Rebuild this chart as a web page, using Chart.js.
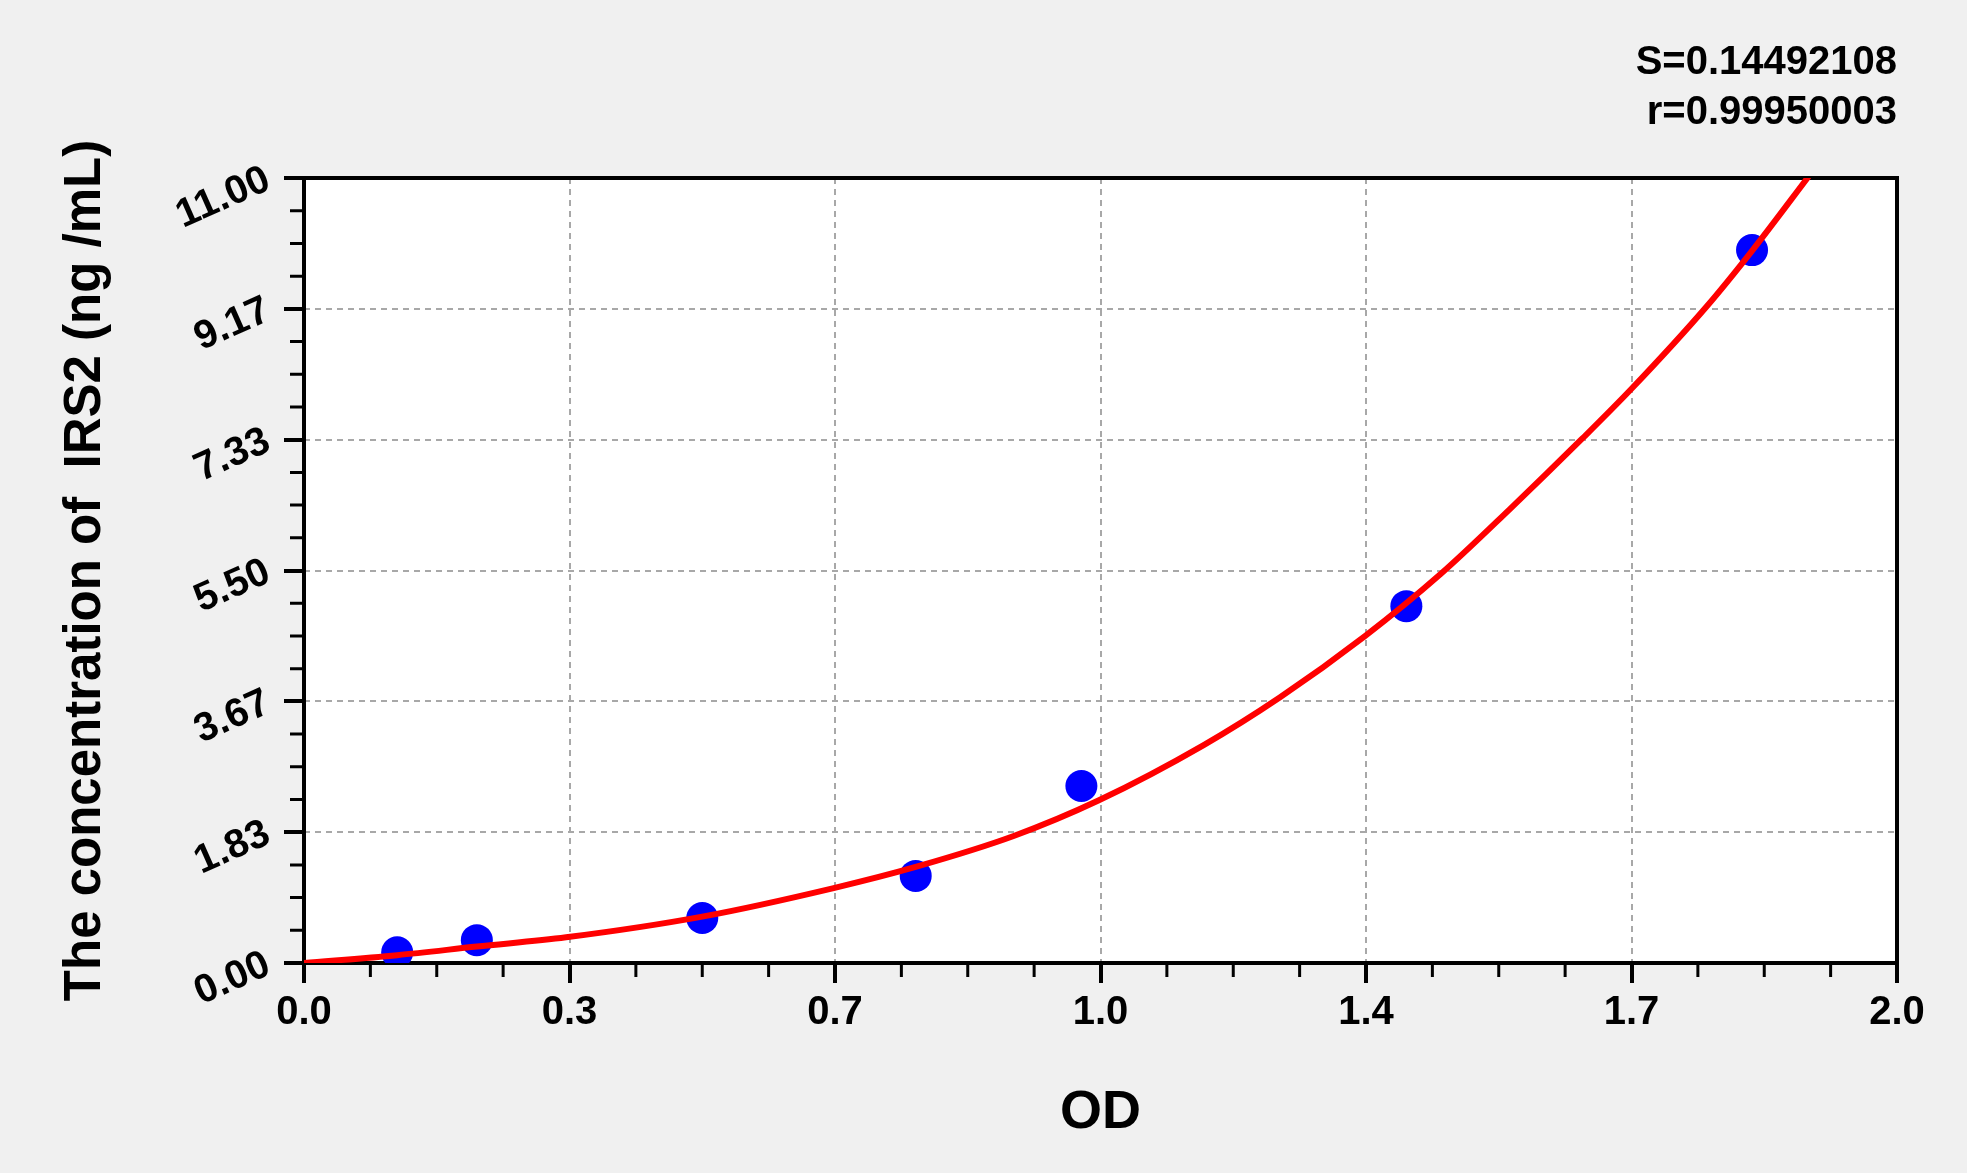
<!DOCTYPE html>
<html>
<head>
<meta charset="utf-8">
<script src="https://cdn.jsdelivr.net/npm/chart.js@4/dist/chart.umd.min.js"></script>
<style>
  html, body { margin: 0; padding: 0; background: #f0f0f0; }
  #wrap { width: 1967px; height: 1173px; }
</style>
</head>
<body>
<div id="wrap"><canvas id="curve" width="1967" height="1173"></canvas></div>
<script>
// Axis tick labels (ticks are evenly spaced, labels as printed)
const xTickLabels = ['0.0', '0.3', '0.7', '1.0', '1.4', '1.7', '2.0'];
const yTickLabels = ['0.00', '1.83', '3.67', '5.50', '7.33', '9.17', '11.00'];
const xMax = 2;
const yMax = 11;

// Standards: OD vs concentration (ng/mL)
const odValues = [0.117, 0.217, 0.500, 0.768, 0.976, 1.384, 1.818];
const concValues = [0.15, 0.32, 0.63, 1.22, 2.48, 5.00, 9.99];

// Fitted curve
const fitOD = [0, 0.117, 0.217, 0.329, 0.500, 0.665, 0.769, 0.891, 0.998, 1.129, 1.225, 1.332, 1.427, 1.513, 1.605, 1.667, 1.761, 1.818, 1.893];
const fitConc = [0, 0.11, 0.23, 0.36, 0.65, 1.05, 1.35, 1.78, 2.28, 3.05, 3.72, 4.58, 5.45, 6.35, 7.35, 8.05, 9.20, 9.98, 11.08];

const statLines = ['S=0.14492108', 'r=0.99950003'];

const fontFamily = "'Liberation Sans', Arial, sans-serif";

// background, plot frame and minor ticks
const framePlugin = {
  id: 'frame',
  beforeDraw(chart) {
    const { ctx, chartArea: a } = chart;
    ctx.save();
    ctx.fillStyle = '#f0f0f0';
    ctx.fillRect(0, 0, chart.width, chart.height);
    ctx.fillStyle = '#ffffff';
    ctx.fillRect(a.left, a.top, a.right - a.left, a.bottom - a.top);
    ctx.restore();
  },
  beforeDatasetsDraw(chart) {
    const { ctx, chartArea: a, scales } = chart;
    ctx.save();
    ctx.strokeStyle = '#000';
    ctx.lineWidth = 3;
    ctx.beginPath();
    const nx = xTickLabels.length - 1;
    for (let i = 0; i < nx; i++) {
      for (let j = 1; j < 4; j++) {
        const px = scales.x.getPixelForValue((i + j / 4) * xMax / nx);
        ctx.moveTo(px, a.bottom);
        ctx.lineTo(px, a.bottom + 14);
      }
    }
    const ny = yTickLabels.length - 1;
    for (let i = 0; i < ny; i++) {
      for (let j = 1; j < 4; j++) {
        const py = scales.y.getPixelForValue((i + j / 4) * yMax / ny);
        ctx.moveTo(a.left - 14, py);
        ctx.lineTo(a.left, py);
      }
    }
    ctx.stroke();
    ctx.lineWidth = 4;
    ctx.strokeRect(a.left, a.top, a.right - a.left, a.bottom - a.top);
    ctx.restore();
  }
};

const ctx = document.getElementById('curve');

new Chart(ctx, {
  type: 'scatter',
  data: {
    datasets: [
      {
        label: 'fit',
        data: fitOD.map((v, i) => ({ x: v, y: fitConc[i] })),
        showLine: true,
        borderColor: '#ff0000',
        borderWidth: 6,
        pointRadius: 0,
        cubicInterpolationMode: 'monotone',
        order: 0
      },
      {
        label: 'standards',
        data: odValues.map((v, i) => ({ x: v, y: concValues[i] })),
        backgroundColor: '#0000ff',
        borderWidth: 0,
        pointRadius: 16,
        order: 1
      }
    ]
  },
  options: {
    responsive: false,
    animation: false,
    devicePixelRatio: 1,
    layout: { padding: { left: 0, right: 70, top: 0, bottom: 0 } },
    plugins: {
      legend: { display: false },
      tooltip: { enabled: false },
      title: {
        display: true,
        text: statLines,
        align: 'end',
        color: '#000',
        font: { family: fontFamily, size: 40, weight: 'bold', lineHeight: 50 / 40 },
        padding: { top: 38, bottom: 40 }
      }
    },
    scales: {
      x: {
        type: 'linear',
        min: 0,
        max: xMax,
        afterBuildTicks(scale) {
          scale.ticks = xTickLabels.map((_, i) => ({ value: i * xMax / (xTickLabels.length - 1) }));
        },
        afterFit(scale) { scale.height = 210; },
        grid: {
          color: '#a8a8a8',
          lineWidth: 2,
          tickLength: 20,
          tickWidth: 4,
          tickColor: '#000',
          tickBorderDash: []
        },
        border: { display: false, dash: [6, 5] },
        ticks: {
          color: '#000',
          padding: 6,
          maxRotation: 0,
          font: { family: fontFamily, size: 40, weight: 'bold' },
          callback: (value, index) => xTickLabels[index]
        },
        title: {
          display: true,
          text: 'OD',
          color: '#000',
          font: { family: fontFamily, size: 54, weight: 'bold' },
          padding: { top: 0, bottom: 27 }
        }
      },
      y: {
        type: 'linear',
        min: 0,
        max: yMax,
        afterBuildTicks(scale) {
          scale.ticks = yTickLabels.map((_, i) => ({ value: i * yMax / (yTickLabels.length - 1) }));
        },
        afterFit(scale) { scale.width = 304; },
        grid: {
          color: '#a8a8a8',
          lineWidth: 2,
          tickLength: 20,
          tickWidth: 4,
          tickColor: '#000',
          tickBorderDash: []
        },
        border: { display: false, dash: [6, 5] },
        ticks: {
          color: '#000',
          padding: 16,
          minRotation: 24,
          maxRotation: 24,
          font: { family: fontFamily, size: 40, weight: 'bold' },
          callback: (value, index) => yTickLabels[index]
        },
        title: {
          display: true,
          text: 'The concentration of  IRS2 (ng /mL)',
          color: '#000',
          font: { family: fontFamily, size: 51, weight: 'bold' },
          padding: { top: 55, bottom: 0 }
        }
      }
    }
  },
  plugins: [framePlugin]
});
</script>
</body>
</html>
